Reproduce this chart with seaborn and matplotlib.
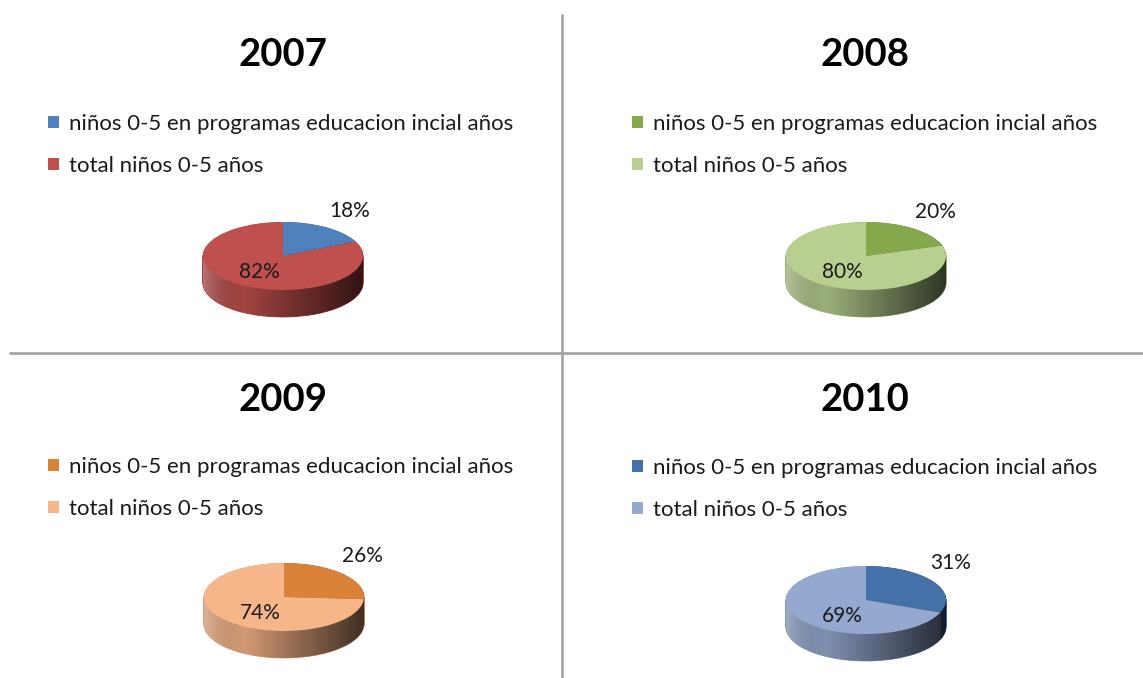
import numpy as np
import seaborn as sns
import matplotlib
matplotlib.use("Agg")
import matplotlib.pyplot as plt
from matplotlib.patches import Patch, PathPatch
from matplotlib.path import Path
from matplotlib.lines import Line2D
from matplotlib.colors import to_rgb

years = ['2007', '2008', '2009', '2010']
pct_prog = [18, 20, 26, 31]
pct_total = [82, 80, 74, 69]
legend_labels = ['niños 0-5 en programas educacion incial años', 'total niños 0-5 años']
colors_prog = ['#4F81BD', '#86A84C', '#DB823A', '#4471A8']
colors_total = ['#C0504D', '#B8CF90', '#F7B58A', '#95A9D0']

sns.set_theme(style='white')
plt.rcParams['font.family'] = ['Lato', 'DejaVu Sans']

W, H = 1143, 678
fig = plt.figure(figsize=(W / 100, H / 100), dpi=100)

# panel layout in pixels: title centre, legend anchor, pie centre
title_pos = [(283, 55), (865, 55), (283, 400), (865, 400)]
legend_pos = [(48, 114), (632, 114), (48, 457), (632, 458)]
pie_pos = [(283, 256), (866, 256), (284, 597), (866, 600)]
RX, RY, THICK = 80, 34, 27


def fx(x):
    return x / W


def fy(y):
    return 1 - y / H


def draw_pie(i):
    cx, cy = pie_pos[i]
    ax = fig.add_axes([fx(cx - 100), fy(cy + 80), 200 / W, 140 / H])
    vals = [pct_prog[i], pct_total[i]]
    cols = [colors_prog[i], colors_total[i]]
    t = THICK / RY
    # side wall: stacked darker copies of the pie
    side = [tuple(np.array(to_rgb(c)) * 0.85) for c in cols]
    n = 40
    for k in range(n, 0, -1):
        wedges, _ = ax.pie(vals, colors=side, startangle=90, counterclock=False,
                           center=(0, -t * k / n), radius=1,
                           wedgeprops=dict(linewidth=0.6))
        for w, c in zip(wedges, side):
            w.set_edgecolor(c)
            w.set_zorder(1)
    # horizontal shading on the wall
    th1 = np.linspace(0, np.pi, 60)
    th2 = np.linspace(np.pi, 2 * np.pi, 60)
    verts = np.vstack([np.c_[np.cos(th1), np.sin(th1)],
                       np.c_[np.cos(th2), np.sin(th2) - t],
                       [[1, 0]]])
    clip = PathPatch(Path(verts), transform=ax.transData, facecolor='none', edgecolor='none')
    ax.add_patch(clip)
    xs = np.linspace(0, 1, 256)
    grad = np.zeros((1, 256, 4))
    shade = np.clip((xs - 0.25) / 0.75, 0, 1)
    lift = np.clip((0.25 - xs) / 0.25, 0, 1)
    grad[0, :, :3] = lift[:, None]
    grad[0, :, 3] = 0.7 * shade + 0.25 * lift
    im = ax.imshow(grad, extent=(-1, 1, -1 - t, 1), aspect='auto', zorder=2,
                   interpolation='bilinear')
    im.set_clip_path(clip)
    # top surface
    wedges, _ = ax.pie(vals, colors=cols, startangle=90, counterclock=False,
                       wedgeprops=dict(linewidth=0))
    for w in wedges:
        w.set_zorder(3)
    # labels
    mid = np.deg2rad(90 - 3.6 * vals[0] / 2)
    ax.text(0.4 + 0.8 * np.cos(mid), 0.68 + 0.75 * np.sin(mid), f'{vals[0]}%',
            ha='center', va='center', fontsize=15, color='#1a1a1a', zorder=5)
    ax.text(-0.3, -0.46, f'{vals[1]}%', ha='center', va='center',
            fontsize=15, color='#1a1a1a', zorder=5)
    ax.set_aspect('auto')
    ax.set_xlim(-1.25, 1.25)
    ax.set_ylim(-80 / RY, 60 / RY)
    ax.axis('off')


for i in range(4):
    draw_pie(i)
    tx, ty = title_pos[i]
    fig.text(fx(tx), fy(ty), years[i], ha='center', va='center',
             fontsize=27.5, fontweight='bold', color='black')
    lx, ly = legend_pos[i]
    handles = [Patch(facecolor=colors_prog[i], edgecolor='none'),
               Patch(facecolor=colors_total[i], edgecolor='none')]
    fig.legend(handles, legend_labels, loc='upper left',
               bbox_to_anchor=(fx(lx), fy(ly)), frameon=False,
               fontsize=16, handlelength=0.5, handleheight=0.5,
               handletextpad=0.45, labelspacing=0.98, borderaxespad=0,
               borderpad=0, labelcolor='#1a1a1a')

# dividers
fig.add_artist(Line2D([fx(562), fx(562)], [fy(15), fy(678)], color='#A6A6A6', lw=2))
fig.add_artist(Line2D([fx(10), fx(1143)], [fy(353), fy(353)], color='#A6A6A6', lw=2))

fig.savefig('out.png', dpi=100, facecolor='white')
